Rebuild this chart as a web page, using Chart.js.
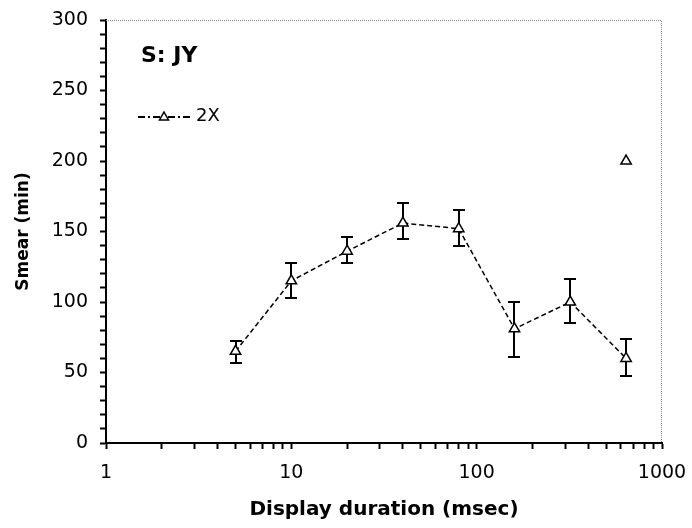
<!DOCTYPE html>
<html lang="en">
<head>
  <meta charset="UTF-8" />
  <title>Smear vs display duration - S: JY</title>
  <style>
    body { margin: 0; background: #fff; }
    canvas { display: block; }
  </style>
</head>
<body>
  <canvas id="smearChart" width="692" height="528"></canvas>

  <script src="https://cdn.jsdelivr.net/npm/chart.js"></script>
  <script>
    // Display durations (msec) and mean smear (min) with error bar limits
    const durations = [5, 10, 20, 40, 80, 160, 320, 640];
    const smear = [65, 115, 136, 156, 152, 81, 100, 60];
    const smearHigh = [72, 128, 146, 170, 165, 100, 116, 73.5];
    const smearLow = [56.5, 103, 128, 144.5, 140, 61, 85, 47.5];

    // stray marker at the far right
    const extraDurations = [640];
    const extraSmear = [200];

    const xTickValues = [1, 2, 3, 4, 5, 6, 7, 8, 9,
                         10, 20, 30, 40, 50, 60, 70, 80, 90,
                         100, 200, 300, 400, 500, 600, 700, 800, 900, 1000];
    const xTickLabels = [1, 10, 100, 1000];
    const yTickStep = 10;
    const yLabelStep = 50;

    const subjectLabel = 'S: JY';
    const seriesLabel = '2X';

    // vertical error bars with caps, drawn under the markers
    const errorBars = {
      id: 'errorBars',
      beforeDatasetsDraw(chart) {
        const { ctx, scales: { x, y } } = chart;
        ctx.save();
        ctx.strokeStyle = '#000';
        ctx.lineWidth = 2;
        durations.forEach((d, i) => {
          const px = Math.round(x.getPixelForValue(d));
          const top = Math.round(y.getPixelForValue(smearHigh[i]));
          const bot = Math.round(y.getPixelForValue(smearLow[i]));
          ctx.beginPath();
          ctx.moveTo(px, top); ctx.lineTo(px, bot);
          ctx.moveTo(px - 6, top); ctx.lineTo(px + 6, top);
          ctx.moveTo(px - 6, bot); ctx.lineTo(px + 6, bot);
          ctx.stroke();
        });
        ctx.restore();
      }
    };

    // dotted frame on top and right, subject label and the little legend
    const frameAndNotes = {
      id: 'frameAndNotes',
      afterDraw(chart) {
        const { ctx, chartArea: a } = chart;
        ctx.save();
        ctx.strokeStyle = '#888';
        ctx.lineWidth = 1;
        ctx.setLineDash([1, 1]);
        ctx.beginPath();
        ctx.moveTo(a.left, a.top + 0.5);
        ctx.lineTo(a.right - 0.5, a.top + 0.5);
        ctx.lineTo(a.right - 0.5, a.bottom);
        ctx.stroke();
        ctx.setLineDash([]);

        ctx.fillStyle = '#000';
        ctx.textBaseline = 'alphabetic';
        ctx.font = 'bold 22px "DejaVu Sans"';
        ctx.fillText(subjectLabel, a.left + 35, a.top + 42);

        // legend sample: dashed line with a triangle in the middle
        const ly = a.top + 97;
        const lx = a.left + 32;
        ctx.strokeStyle = '#000';
        ctx.lineWidth = 2;
        ctx.setLineDash([7, 3, 2, 3]);
        ctx.beginPath();
        ctx.moveTo(lx, ly);
        ctx.lineTo(lx + 52, ly);
        ctx.stroke();
        ctx.setLineDash([]);
        const tx = lx + 26;
        ctx.fillStyle = '#fff';
        ctx.lineWidth = 1.5;
        ctx.beginPath();
        ctx.moveTo(tx, ly - 5);
        ctx.lineTo(tx + 4.5, ly + 3);
        ctx.lineTo(tx - 4.5, ly + 3);
        ctx.closePath();
        ctx.fill();
        ctx.stroke();
        ctx.fillStyle = '#000';
        ctx.font = '18px "DejaVu Sans"';
        ctx.textBaseline = 'middle';
        ctx.fillText(seriesLabel, lx + 58, ly - 1);
        ctx.restore();
      }
    };

    const ctx = document.getElementById('smearChart').getContext('2d');
    const chart = new Chart(ctx, {
      type: 'scatter',
      data: {
        datasets: [
          {
            label: seriesLabel,
            data: durations.map((d, i) => ({ x: d, y: smear[i] })),
            showLine: true,
            borderColor: '#000',
            borderWidth: 1.5,
            borderDash: [5, 3],
            pointStyle: 'triangle',
            pointRadius: 6,
            pointBorderWidth: 1.5,
            pointBackgroundColor: '#fff',
            pointBorderColor: '#000'
          },
          {
            label: 'extra',
            data: extraDurations.map((d, i) => ({ x: d, y: extraSmear[i] })),
            showLine: false,
            pointStyle: 'triangle',
            pointRadius: 6,
            pointBorderWidth: 1.5,
            pointBackgroundColor: '#fff',
            pointBorderColor: '#000'
          }
        ]
      },
      options: {
        responsive: false,
        animation: false,
        devicePixelRatio: 1,
        layout: { padding: { top: 20, right: 30, left: 0, bottom: 0 } },
        plugins: {
          legend: { display: false },
          tooltip: { enabled: false }
        },
        scales: {
          x: {
            type: 'logarithmic',
            min: 1,
            max: 1000,
            afterBuildTicks: scale => {
              scale.ticks = xTickValues.map(v => ({ value: v, major: xTickLabels.includes(v) }));
            },
            afterFit: scale => {
              scale.height = 85;
              scale.paddingLeft = 0;
              scale.paddingRight = 0;
            },
            border: { display: true, color: '#000', width: 2 },
            grid: {
              drawOnChartArea: false,
              drawTicks: true,
              tickLength: 6,
              tickColor: '#000',
              tickWidth: 2
            },
            ticks: {
              autoSkip: false,
              maxRotation: 0,
              padding: 13,
              color: '#000',
              font: { family: 'DejaVu Sans', size: 19 },
              callback: v => (xTickLabels.includes(v) ? String(v) : '')
            },
            title: {
              display: true,
              text: 'Display duration (msec)',
              color: '#000',
              font: { family: 'DejaVu Sans', size: 20, weight: 'bold' },
              padding: { top: 0, bottom: 6 }
            }
          },
          y: {
            min: 0,
            max: 300,
            afterFit: scale => {
              scale.width = 106;
              scale.paddingTop = 0;
              scale.paddingBottom = 0;
            },
            border: { display: true, color: '#000', width: 2 },
            grid: {
              drawOnChartArea: false,
              drawTicks: true,
              tickLength: 6,
              tickColor: '#000',
              tickWidth: 2
            },
            ticks: {
              stepSize: yTickStep,
              autoSkip: false,
              padding: 12,
              color: '#000',
              font: { family: 'DejaVu Sans', size: 19 },
              callback: v => (v % yLabelStep === 0 ? String(v) : '')
            },
            title: {
              display: true,
              text: 'Smear (min)',
              color: '#000',
              font: { family: 'DejaVu Sans', size: 17, weight: 'bold' },
              padding: { top: 13, bottom: 0 }
            }
          }
        }
      },
      plugins: [errorBars, frameAndNotes]
    });
  </script>
</body>
</html>
